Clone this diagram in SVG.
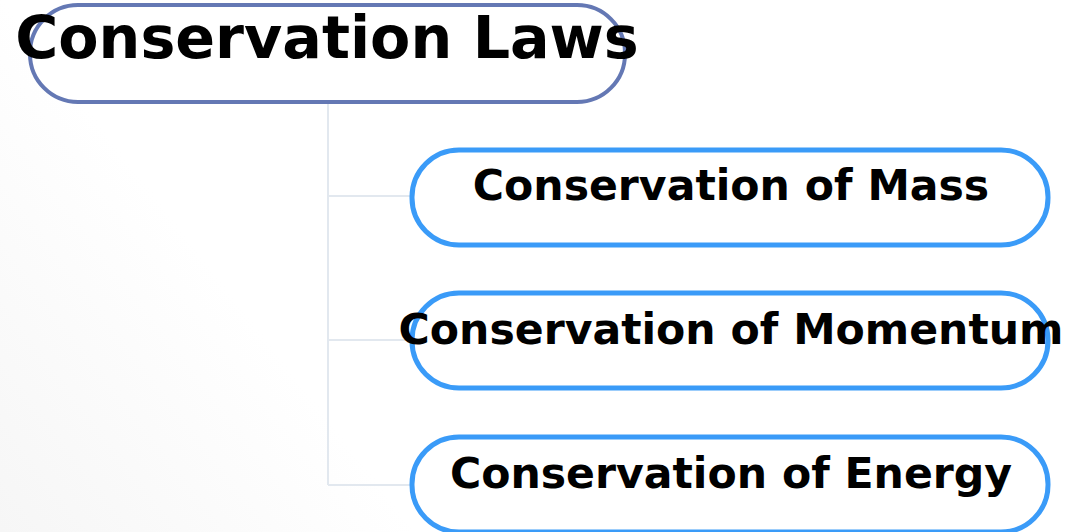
<svg xmlns="http://www.w3.org/2000/svg" width="1065" height="532" viewBox="0 0 1065 532">
  <defs>
    <linearGradient id="bgShade" x1="0" y1="532" x2="260" y2="330" gradientUnits="userSpaceOnUse">
      <stop offset="0" stop-color="#f6f6f6"/>
      <stop offset="1" stop-color="#ffffff"/>
    </linearGradient>
  </defs>
  <style>
    .label { font-family: "DejaVu Sans", "Liberation Sans", sans-serif; font-weight: bold; fill: #000; text-anchor: middle; }
    .root-box { fill: #ffffff; stroke: #6478b4; stroke-width: 4; }
    .child-box { fill: #ffffff; stroke: #3a9bf8; stroke-width: 5; }
    .link { fill: none; stroke: #e2e8ef; stroke-width: 2; }
  </style>

  <rect width="1065" height="532" fill="url(#bgShade)"/>

  <!-- tree connectors -->
  <g id="connectors">
    <path class="link" d="M328 102 V485"/>
    <path class="link" d="M328 196 H412"/>
    <path class="link" d="M328 340 H412"/>
    <path class="link" d="M328 485 H412"/>
  </g>

  <g id="node-root">
    <rect class="root-box" x="30" y="5" width="595" height="97" rx="48" ry="48"/>
    <text class="label" x="327" y="58" font-size="58.7">Conservation Laws</text>
  </g>

  <g id="node-mass">
    <rect class="child-box" x="412" y="150" width="636" height="95" rx="47" ry="47"/>
    <text class="label" x="731" y="200" font-size="42.6">Conservation of Mass</text>
  </g>

  <g id="node-momentum">
    <rect class="child-box" x="412" y="293" width="636" height="95" rx="47" ry="47"/>
    <text class="label" x="731" y="344" font-size="42.6">Conservation of Momentum</text>
  </g>

  <g id="node-energy">
    <rect class="child-box" x="412" y="437" width="636" height="95" rx="47" ry="47"/>
    <text class="label" x="731" y="488" font-size="42.6">Conservation of Energy</text>
  </g>
</svg>
